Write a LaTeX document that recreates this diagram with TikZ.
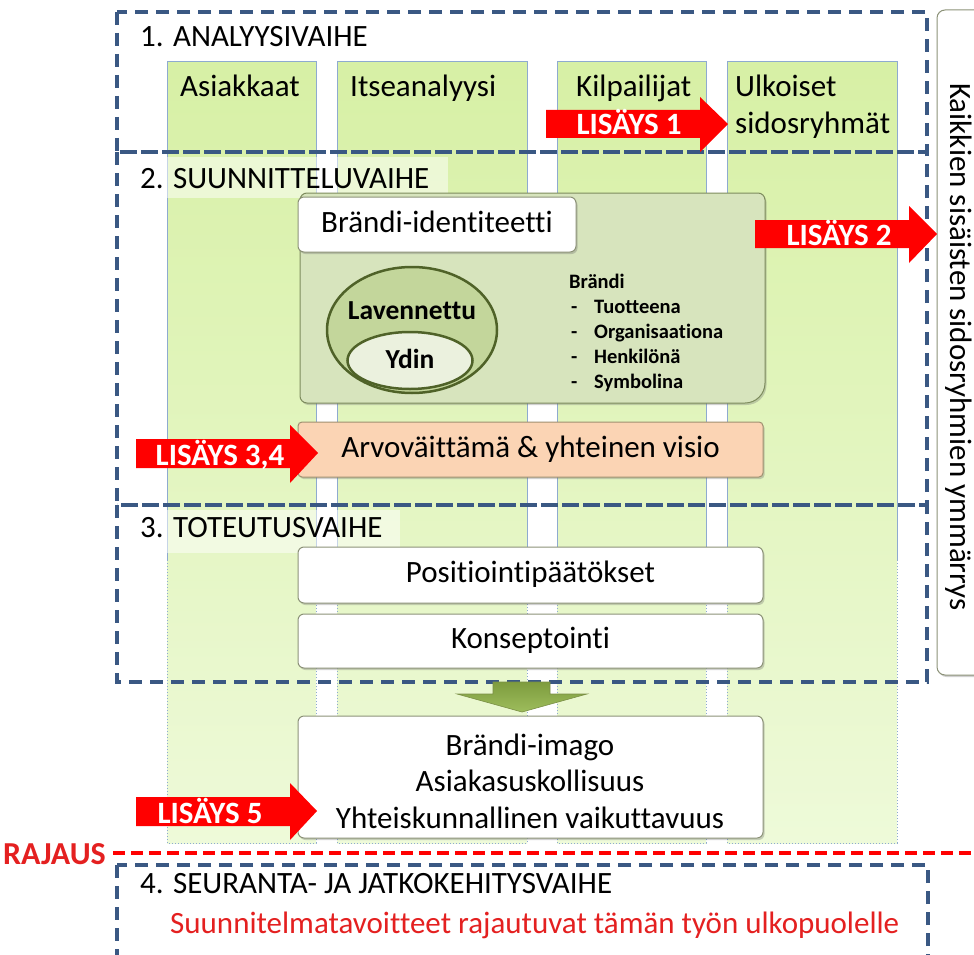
\documentclass[tikz,border=0pt]{standalone}
\usepackage{fontspec}
\setmainfont{Carlito}[Ligatures=NoCommon]
\usetikzlibrary{shadows,shapes.geometric}

\definecolor{phaseblue}{HTML}{3A5883}
\definecolor{colline}{HTML}{8EAAD0}
\definecolor{coltop}{HTML}{D7F0A5}
\definecolor{colbot}{HTML}{EEFAD9}
\definecolor{idfill}{HTML}{D7E4BD}
\definecolor{idline}{HTML}{7D8B5D}
\definecolor{lavfill}{HTML}{C3D69B}
\definecolor{olivedark}{HTML}{4F6228}
\definecolor{ydinfill}{HTML}{EBF1DE}
\definecolor{peach}{HTML}{FBD4B4}
\definecolor{peachline}{HTML}{A09070}
\definecolor{boxline}{HTML}{8C9278}
\definecolor{addred}{HTML}{FF0000}
\definecolor{textred}{HTML}{E42020}
\definecolor{arrowtop}{HTML}{7E9C3E}
\definecolor{arrowbot}{HTML}{9DBD5C}
\definecolor{arrowline}{HTML}{7A8F45}

\tikzset{
  big/.style={font=\fontsize{31}{37}\selectfont},
  lbl/.style={big, anchor=base west, inner sep=0pt},
  phasebox/.style={draw=phaseblue, line width=3.2pt, dash pattern=on 13pt off 8pt},
  colfill/.style={top color=coltop, bottom color=colbot, draw=none},
  coledge/.style={draw=colline, line width=1pt},
  coldot/.style={draw=colline, line width=1pt, dotted},
  softshadow/.style={drop shadow={shadow xshift=1.5pt, shadow yshift=-2pt, opacity=0.3, fill=black!60}},
  whitebox/.style={draw=boxline, fill=white, line width=1pt, rounded corners=6pt,
    softshadow, big, text height=21pt, text depth=6pt, inner sep=0pt},
  addarrow/.style={fill=addred, draw=none},
  addtext/.style={font=\fontsize{31}{36}\selectfont\bfseries, text=white, anchor=base, inner sep=0pt},
  listtxt/.style={font=\fontsize{20.5}{25}\selectfont\bfseries, anchor=base west, inner sep=0pt},
  centertxt/.style={big, anchor=base, inner sep=0pt},
}

\begin{document}
\begin{tikzpicture}[x=1pt, y=-1pt]
\useasboundingbox (0,0) rectangle (974,955);
\fill[white] (0,0) rectangle (974,955);

% stakeholder columns
\foreach \xa/\xb in {167/316, 337/527, 557/706, 727/897}{
  \shade[colfill] (\xa,62) rectangle (\xb,843);
  \draw[coledge] (\xa,560) -- (\xa,62) -- (\xb,62) -- (\xb,560);
  \draw[coldot] (\xa,560) -- (\xa,843) -- (\xb,843) -- (\xb,560);
}

% light patches behind phase titles
\fill[white, opacity=0.5] (130,157) rectangle (448,198);
\fill[white, opacity=0.5] (130,510) rectangle (400,553);

% phase frames
\draw[phasebox] (117,12) rectangle (927,152);
\draw[phasebox] (117,152) rectangle (927,505);
\draw[phasebox] (117,505) rectangle (927,682);
\draw[phasebox] (117,865) rectangle (928,962);

% phase titles
\node[lbl] (p1) at (140,47) {1. ANALYYSIVAIHE};
\node[lbl] (p2) at (140,188) {2. SUUNNITTELUVAIHE};
\node[lbl] (p3) at (140,537) {3. TOTEUTUSVAIHE};
\node[lbl] (p4) at (140,893) {4. SEURANTA- JA JATKOKEHITYSVAIHE};
\node[lbl, text=textred] (p4note) at (170,933) {Suunnitelmatavoitteet rajautuvat tämän työn ulkopuolelle};

% column headings
\node[lbl] (c1) at (180,97) {Asiakkaat};
\node[lbl] (c2) at (350,97) {Itseanalyysi};
\node[lbl] (c3) at (576,97) {Kilpailijat};
\node[lbl] (c4a) at (735,97) {Ulkoiset};
\node[lbl] (c4b) at (735,133) {sidosryhmät};

% internal stakeholders side panel
\draw[draw=boxline, fill=white, line width=1pt, rounded corners=8pt, softshadow]
  (990,10) -- (937,10) -- (937,675) -- (990,675);
\node[big, rotate=-90, inner sep=0pt] (internal) at (959,347) {Kaikkien sisäisten sidosryhmien ymmärrys};

% brand identity panel
\path[fill=idfill, draw=idline, line width=1pt, softshadow]
  [rounded corners=7pt] (300,300) -- (300,193) -- (765,193)
  [rounded corners=20pt] -- (765,403)
  [rounded corners=7pt] -- (300,403) -- cycle;
\node[whitebox, minimum width=278pt, minimum height=55pt] (identity) at (437,224.5) {Brändi-identiteetti};

\node[ellipse, draw=olivedark, fill=lavfill, line width=2.5pt, minimum width=170pt, minimum height=126pt, inner sep=0pt] (laaja) at (412,330) {};
\node[ellipse, draw=olivedark, fill=ydinfill, line width=2.5pt, minimum width=125pt, minimum height=57pt, inner sep=0pt] (ydin) at (410,360.5) {};
\node[font=\fontsize{27.5}{32}\selectfont\bfseries, anchor=base, inner sep=0pt] (laajatxt) at (412,319) {Lavennettu};
\node[font=\fontsize{27.5}{32}\selectfont\bfseries, anchor=base, inner sep=0pt] (ydintxt) at (410,368) {Ydin};

\node[listtxt] (brandi) at (569,288) {Brändi};
\foreach \y/\t [count=\i] in {313/Tuotteena, 338/Organisaationa, 363/Henkilönä, 388/Symbolina}{
  \node[listtxt] (dash\i) at (571,\y) {-};
  \node[listtxt] (item\i) at (594,\y) {\t};
}

% value proposition
\node[draw=peachline, fill=peach, line width=1pt, rounded corners=4pt, softshadow,
  big, text height=21pt, text depth=6pt, inner sep=0pt,
  minimum width=465pt, minimum height=55pt] (arvo) at (530.5,449.5) {Arvoväittämä \& yhteinen visio};

% implementation
\node[whitebox, minimum width=465pt, minimum height=56pt] (posit) at (530.5,575) {Positiointipäätökset};
\node[whitebox, minimum width=465pt, minimum height=54pt] (konsep) at (530.5,641) {Konseptointi};

% result arrow
\shade[top color=arrowtop, bottom color=arrowbot, draw=arrowline, line width=0.6pt]
  (493,682) -- (550,682) -- (550,694) -- (587,694) -- (522,712) -- (457,694) -- (493,694) -- cycle;

% outcomes
\node[whitebox, minimum width=465pt, minimum height=122pt] (imago) at (530.5,777) {};
\node[centertxt] (out1) at (530,755) {Brändi-imago};
\node[centertxt] (out2) at (530,791) {Asiakasuskollisuus};
\node[centertxt] (out3) at (530,828) {Yhteiskunnallinen vaikuttavuus};

% scope limit
\draw[addred, line width=4pt, dash pattern=on 12pt off 6pt] (113,853) -- (974,853);
\node[font=\fontsize{32}{38}\selectfont\bfseries, text=textred, anchor=base west, inner sep=0pt] (rajaus) at (3,864) {RAJAUS};

% additions
\path[addarrow] (546,110) -- (700,110) -- (700,97) -- (728,124) -- (700,152) -- (700,138) -- (546,138) -- cycle;
\node[addtext] (add1) at (629,135) {LISÄYS 1};
\path[addarrow] (755,220) -- (909,220) -- (909,206) -- (937,234) -- (909,263) -- (909,248) -- (755,248) -- cycle;
\node[addtext] (add2) at (839,245) {LISÄYS 2};
\path[addarrow] (136,439) -- (290,439) -- (290,425) -- (318,453) -- (290,483) -- (290,468) -- (136,468) -- cycle;
\node[addtext] (add34) at (220,465) {LISÄYS 3,4};
\path[addarrow] (136,797) -- (290,797) -- (290,783) -- (317,811) -- (290,840) -- (290,826) -- (136,826) -- cycle;
\node[addtext] (add5) at (210,823) {LISÄYS 5};
\end{tikzpicture}
\end{document}
